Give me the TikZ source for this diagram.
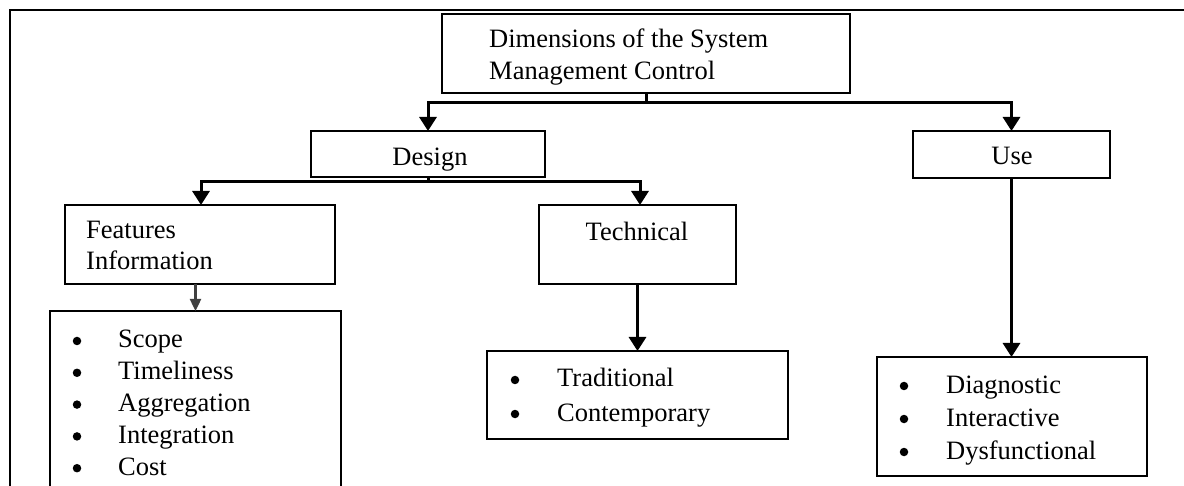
\documentclass[tikz,border=0pt]{standalone}
\usepackage{fontspec}
\setmainfont{Liberation Serif}
\usetikzlibrary{arrows.meta}

\tikzset{
  box/.style={draw, line width=2.4pt, inner sep=0pt, outer sep=0pt, anchor=north west},
  link/.style={line width=3pt},
  conn/.style={line width=3pt, -{Triangle[width=17pt,length=14pt]}},
  thinconn/.style={line width=2.4pt, draw=black!75, -{Triangle[width=11pt,length=12pt]}},
  txt/.style={inner sep=0pt, anchor=base west, font=\fontsize{26.5}{30}\selectfont},
  ctxt/.style={inner sep=0pt, anchor=base, font=\fontsize{26.5}{30}\selectfont},
  dot/.style={circle, fill, inner sep=0pt, minimum size=8.5pt},
  frame/.style={line width=2.6pt},
}

\begin{document}
\begin{tikzpicture}[x=1pt, y=-1pt]
  \useasboundingbox (0,0) rectangle (1184,486);
  \clip (0,0) rectangle (1184,486);

  % outer frame (top and left sides)
  \draw[frame] (1190,10) -- (10,10) -- (10,495);

  % boxes
  \node[box, minimum width=408pt, minimum height=79pt] (top) at (442,14) {};
  \node[box, minimum width=234pt, minimum height=46pt] (design) at (311,131) {};
  \node[box, minimum width=197pt, minimum height=47pt] (use) at (913,131) {};
  \node[box, minimum width=270pt, minimum height=79pt] (feat) at (65,205) {};
  \node[box, minimum width=197pt, minimum height=79pt] (tech) at (539,205) {};
  \node[box, minimum width=291pt, minimum height=190pt] (flist) at (50,311) {};
  \node[box, minimum width=301pt, minimum height=88pt] (tlist) at (487,351) {};
  \node[box, minimum width=270pt, minimum height=119pt] (ulist) at (877,357) {};

  % box texts
  \node[txt] (topA) at (489,48) {Dimensions of the System};
  \node[txt] (topB) at (489,80) {Management Control};
  \node[ctxt] (designT) at (430,166) {Design};
  \node[ctxt] (useT) at (1012,165) {Use};
  \node[txt] (featA) at (86,239) {Features};
  \node[txt] (featB) at (86,270) {Information};
  \node[ctxt] (techT) at (637,241) {Technical};

  % bullet lists
  \foreach \t [count=\i] in {Scope,Timeliness,Aggregation,Integration,Cost}{
    \node[dot] (fb\i) at (77,341+31.8*\i-31.8) {};
    \node[txt] (fi\i) at (118,348+31.8*\i-31.8) {\t};
  }
  \foreach \t [count=\i] in {Traditional,Contemporary}{
    \node[dot] (tb\i) at (515,380+34*\i-34) {};
    \node[txt] (ti\i) at (557,387+34*\i-34) {\t};
  }
  \foreach \t [count=\i] in {Diagnostic,Interactive,Dysfunctional}{
    \node[dot] (ub\i) at (904,386+33*\i-33) {};
    \node[txt] (ui\i) at (946,393+33*\i-33) {\t};
  }

  % connectors
  \coordinate (s1) at (top.south |- 0,103);
  \coordinate (s2) at (design.south |- 0,182);
  \draw[link] (top.south) -- (s1);
  \draw[conn] (s1) -| (design.north);
  \draw[conn] (s1) -| (use.north);
  \draw[link] (design.south) -- (s2);
  \draw[conn] (s2) -| ([xshift=1pt]feat.north);
  \draw[conn] (s2) -| ([xshift=2.5pt]tech.north);
  \draw[thinconn] (feat.south -| flist.north) -- (flist.north);
  \draw[conn] (tech.south) -- (tlist.north -| tech.south);
  \draw[conn] (use.south) -- (ulist.north -| use.south);
\end{tikzpicture}
\end{document}
